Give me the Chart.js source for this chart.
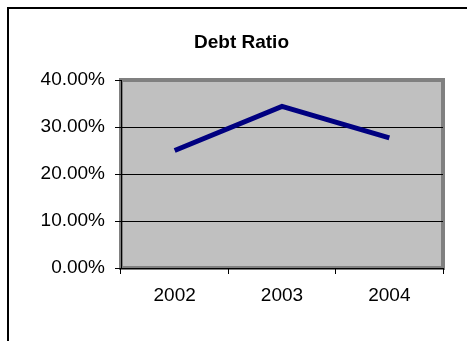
<!DOCTYPE html>
<html>
<head>
<meta charset="utf-8">
<script src="https://cdn.jsdelivr.net/npm/chart.js@4/dist/chart.umd.min.js"></script>
<style>
  html, body { margin: 0; padding: 0; background: #fff; }
  #wrap { width: 467px; height: 341px; }
</style>
</head>
<body>
<div id="wrap"><canvas id="debt" width="467" height="341"></canvas></div>
<script>
const years = ['2002', '2003', '2004'];
const debtRatio = [25.0, 34.4, 27.7];
const yTicks = [0, 10, 20, 30, 40];

const FONT = 'Liberation Sans, Arial, sans-serif';

// excel-ish frame + gray plot area
const excelFrame = {
    id: 'excelFrame',
    beforeDraw(chart) {
        const ctx = chart.ctx;
        const a = chart.chartArea;
        ctx.save();
        ctx.strokeStyle = '#000';
        ctx.lineWidth = 2;
        ctx.beginPath();
        ctx.moveTo(8, 341);
        ctx.lineTo(8, 8);
        ctx.lineTo(467, 8);
        ctx.stroke();

        ctx.fillStyle = '#C0C0C0';
        ctx.fillRect(a.left, a.top, a.right - a.left, a.bottom - a.top);
        ctx.strokeStyle = '#808080';
        ctx.lineWidth = 4;
        ctx.strokeRect(a.left, a.top, a.right - a.left, a.bottom - a.top);
        ctx.restore();
    }
};

new Chart(document.getElementById('debt'), {
    type: 'line',
    data: {
        labels: years,
        datasets: [{
            label: 'Debt Ratio',
            data: debtRatio,
            borderColor: '#000080',
            borderWidth: 5,
            borderCapStyle: 'butt',
            borderJoinStyle: 'miter',
            pointRadius: 0,
            tension: 0,
            fill: false
        }]
    },
    options: {
        responsive: false,
        animation: false,
        devicePixelRatio: 1,
        layout: { padding: { left: 16, right: 0, top: 0, bottom: 0 } },
        plugins: {
            legend: { display: false },
            tooltip: { enabled: false },
            title: {
                display: true,
                text: 'Debt Ratio',
                color: '#000',
                font: { family: FONT, size: 19, weight: 'bold', lineHeight: 1.2 },
                padding: { top: 31, bottom: 26.2 }
            }
        },
        scales: {
            x: {
                offset: true,
                afterFit: s => { s.height = 73; },
                grid: { offset: true, drawOnChartArea: false, drawTicks: true, tickLength: 6, color: '#000' },
                border: { display: true, color: '#000', width: 1 },
                ticks: { color: '#000', font: { family: FONT, size: 19 }, padding: 10, maxRotation: 0 }
            },
            y: {
                min: yTicks[0],
                max: yTicks[yTicks.length - 1],
                afterFit: s => { s.width = 105; },
                afterBuildTicks: s => { s.ticks = yTicks.map(v => ({ value: v })); },
                grid: {
                    color: c => (c.tick && c.tick.value === 40) ? 'rgba(0,0,0,0)' : '#000',
                    tickColor: '#000',
                    lineWidth: 1,
                    tickLength: 6
                },
                border: { display: true, color: '#000', width: 1 },
                ticks: {
                    color: '#000',
                    font: { family: FONT, size: 19 },
                    padding: 10,
                    callback: v => v.toFixed(2) + '%'
                }
            },
            yRight: {
                position: 'right',
                display: true,
                afterFit: s => { s.width = 24; },
                grid: { display: false },
                border: { display: false },
                ticks: { display: false }
            }
        }
    },
    plugins: [excelFrame]
});
</script>
</body>
</html>
